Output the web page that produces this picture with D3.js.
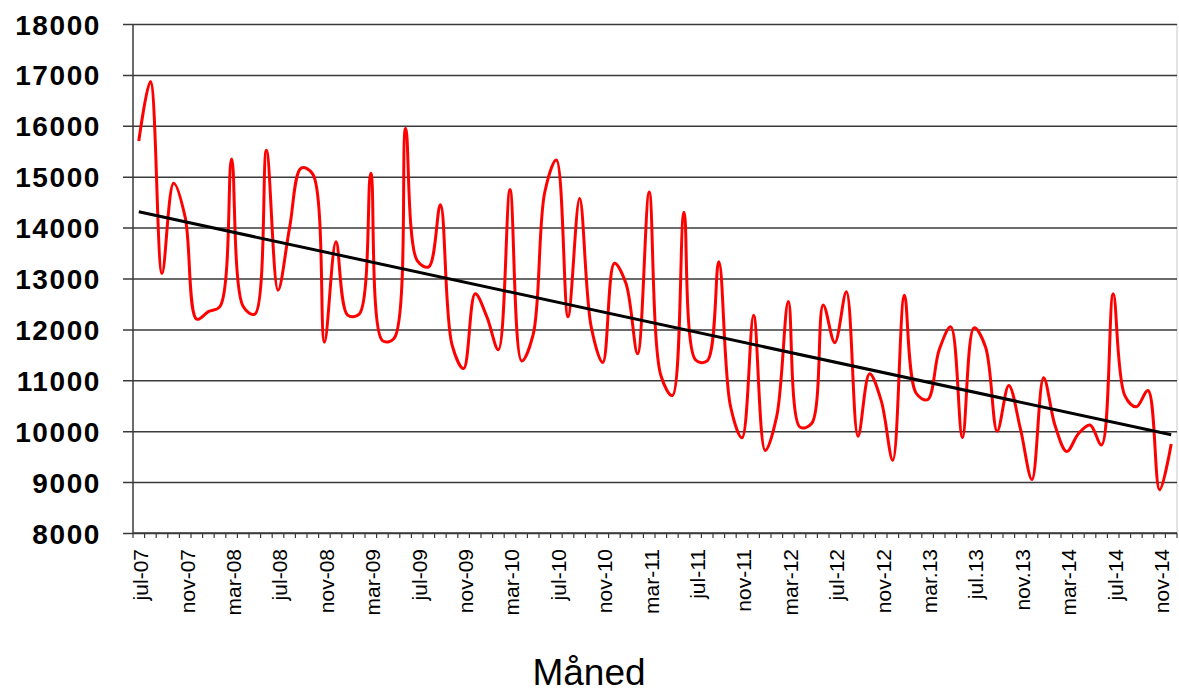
<!DOCTYPE html>
<html>
<head>
<meta charset="utf-8">
<script src="https://cdn.jsdelivr.net/npm/d3@7"></script>
<style>
  body { margin: 0; background: #fff; }
  svg { display: block; font-family: Arial, "Liberation Sans", sans-serif; }
</style>
</head>
<body>
<div id="chart"></div>
<script>
// måned-verdier, jul-07 .. des-14 (90 måneder)
const values = [
  15700, 16870, 13100, 14870, 14200, 12200,
  12350, 12450, 15350, 12450, 12300, 15520, 12770, 14000, 15170, 15050, 11750, 13720,
  12280, 12300, 15070, 11780, 11820, 15950, 13350, 13230, 14450, 11700, 11230, 12700,
  12250, 11600, 14750, 11380, 11900, 14700, 15330, 12250, 14570, 12050, 11350, 13300,
  12900, 11520, 14700, 11100, 10700, 14300, 11400, 11380, 13330, 10500, 9870, 12280,
  9620, 10300, 12550, 10080, 10150, 12480, 11740, 12740, 9900, 11130, 10600, 9430,
  12670, 10750, 10620, 11600, 12050, 9870, 12030, 11650, 10000, 10900, 10050, 9050,
  11050, 10100, 9600, 9950, 10120, 9730, 12700, 10700, 10480, 10800, 8850, 9750
];

// etikett hver 4. måned
const tickLabels = [
  'jul-07', 'nov-07', 'mar-08', 'jul-08', 'nov-08', 'mar-09', 'jul-09', 'nov-09',
  'mar-10', 'jul-10', 'nov-10', 'mar-11', 'jul-11', 'nov-11', 'mar-12', 'jul-12',
  'nov-12', 'mar.13', 'jul.13', 'nov.13', 'mar-14', 'jul-14', 'nov-14'
];
const labelStep = 4;

const yTicks = [8000, 9000, 10000, 11000, 12000, 13000, 14000, 15000, 16000, 17000, 18000];
const axisTitle = 'Måned';

const width = 1179, height = 692;
const plot = { left: 133, right: 1177, top: 24, bottom: 533 };

const svg = d3.select('#chart')
  .append('svg')
  .attr('width', width)
  .attr('height', height);

const x = d3.scaleBand()
  .domain(d3.range(values.length))
  .range([plot.left, plot.right]);
const xc = i => x(i) + x.bandwidth() / 2;

const y = d3.scaleLinear()
  .domain([8000, 18000])
  .range([plot.bottom, plot.top]);

// høyre kant av plottområdet
svg.append('line')
  .attr('x1', plot.right).attr('x2', plot.right)
  .attr('y1', plot.top).attr('y2', plot.bottom)
  .attr('stroke', '#c8c8c8')
  .attr('stroke-width', 1);

// rutenett + y-etiketter
const yAxis = svg.append('g')
  .attr('transform', `translate(${plot.left - 10},0)`)
  .call(d3.axisLeft(y)
    .tickValues(yTicks)
    .tickSize(-(plot.right - plot.left + 10))
    .tickPadding(22)
    .tickFormat(d3.format('d')));
yAxis.select('.domain').remove();
yAxis.selectAll('.tick line')
  .attr('stroke', '#3a3a3a')
  .attr('stroke-width', 1.5);
yAxis.selectAll('.tick text')
  .attr('fill', '#000')
  .style('font-size', '28px')
  .style('font-weight', 'bold')
  .style('letter-spacing', '1.6px')
  .attr('dy', '0.36em');

// y-akse
svg.append('line')
  .attr('x1', plot.left).attr('x2', plot.left)
  .attr('y1', plot.top).attr('y2', plot.bottom)
  .attr('stroke', '#3a3a3a')
  .attr('stroke-width', 1.5);

// x-akse med streker mellom kategoriene
svg.append('line')
  .attr('x1', plot.left).attr('x2', plot.right)
  .attr('y1', plot.bottom).attr('y2', plot.bottom)
  .attr('stroke', '#3a3a3a')
  .attr('stroke-width', 1.5);

svg.append('g')
  .selectAll('line')
  .data(d3.range(values.length + 1))
  .join('line')
  .attr('x1', i => plot.left + i * x.step())
  .attr('x2', i => plot.left + i * x.step())
  .attr('y1', plot.bottom)
  .attr('y2', plot.bottom + 5)
  .attr('stroke', '#3a3a3a')
  .attr('stroke-width', 1.2);

svg.append('g')
  .selectAll('text')
  .data(tickLabels)
  .join('text')
  .attr('transform', (d, k) => `translate(${xc(k * labelStep) + 2},${plot.bottom + 16}) rotate(-90)`)
  .attr('text-anchor', 'end')
  .attr('dy', '0.35em')
  .style('font-size', '21px')
  .attr('fill', '#000')
  .text(d => d);

// aksetittel
svg.append('text')
  .attr('x', 589)
  .attr('y', 685)
  .attr('text-anchor', 'middle')
  .style('font-size', '37px')
  .attr('fill', '#000')
  .text(axisTitle);

// datalinje (glattet)
const line = d3.line()
  .x((d, i) => xc(i))
  .y(d => y(d))
  .curve(d3.curveCatmullRom);

svg.append('path')
  .datum(values)
  .attr('d', line)
  .attr('fill', 'none')
  .attr('stroke', '#ff0000')
  .attr('stroke-width', 3)
  .attr('stroke-linejoin', 'round');

// lineær trendlinje (minste kvadraters metode)
const idx = d3.range(values.length);
const mx = d3.mean(idx), my = d3.mean(values);
const slope = d3.sum(idx, i => (i - mx) * (values[i] - my)) / d3.sum(idx, i => (i - mx) ** 2);
const intercept = my - slope * mx;
const trend = [0, values.length - 1];

svg.append('line')
  .attr('x1', xc(trend[0]))
  .attr('y1', y(intercept + slope * trend[0]))
  .attr('x2', xc(trend[1]))
  .attr('y2', y(intercept + slope * trend[1]))
  .attr('stroke', '#000')
  .attr('stroke-width', 3);
</script>
</body>
</html>
